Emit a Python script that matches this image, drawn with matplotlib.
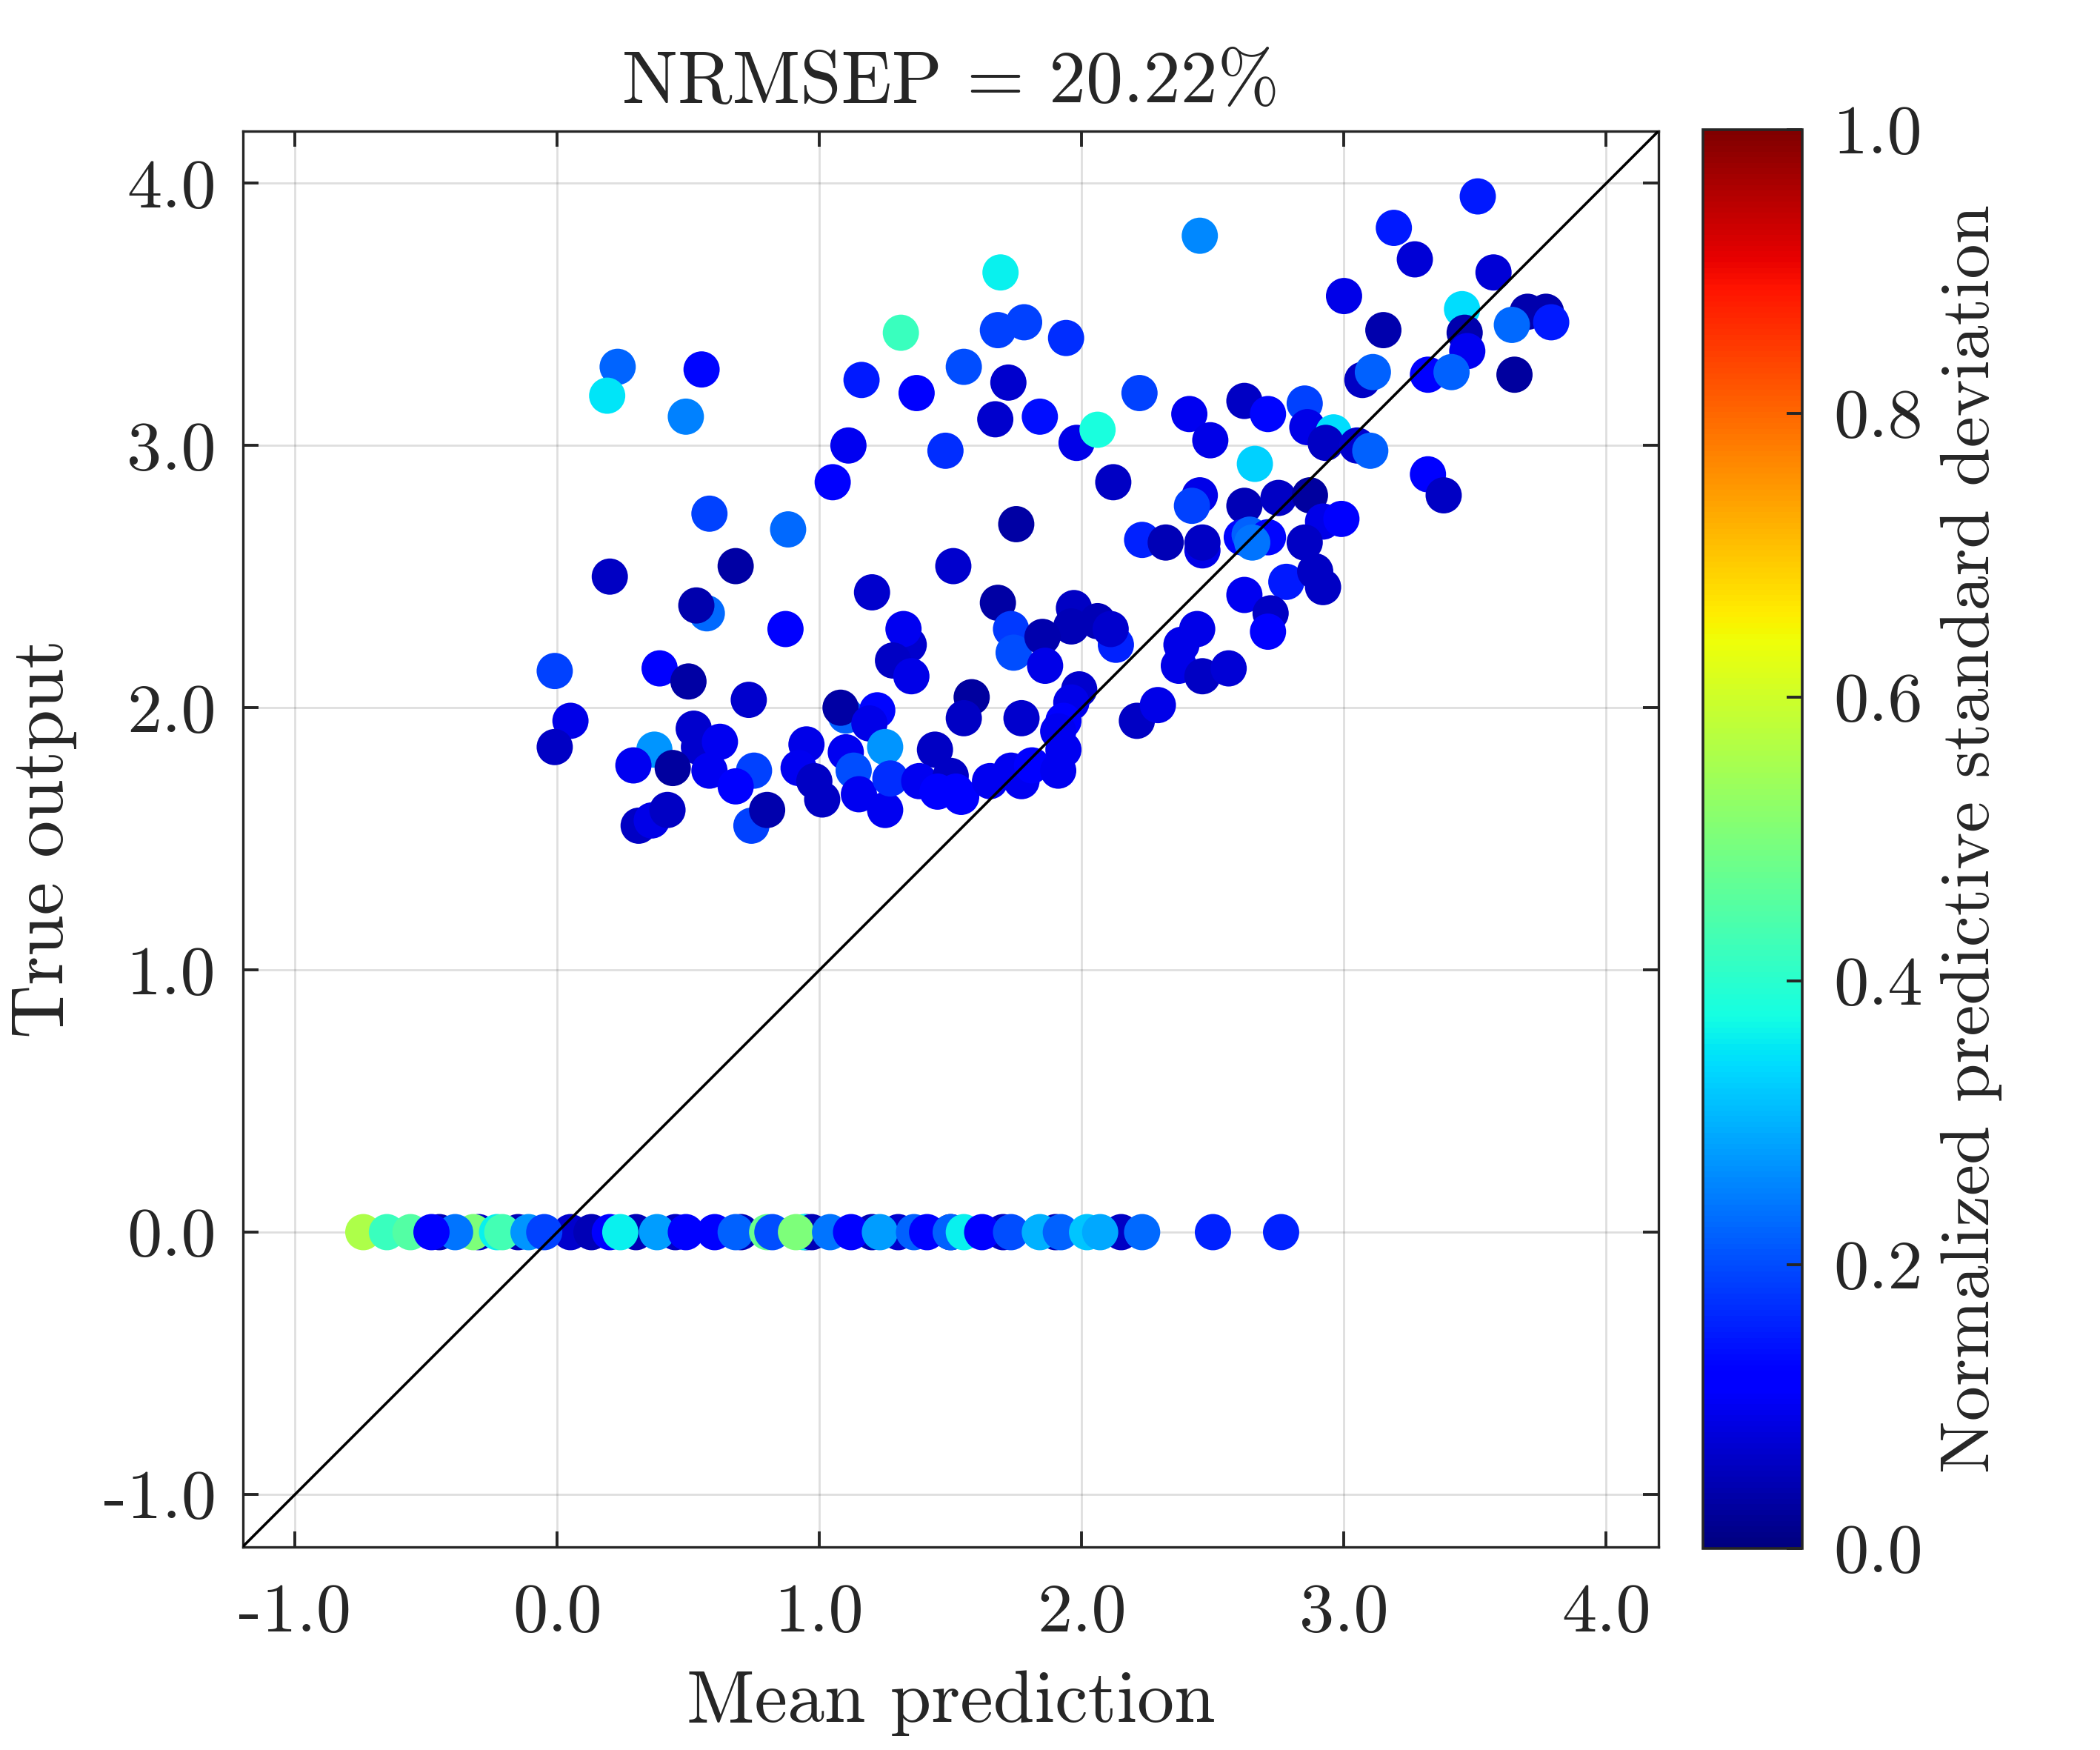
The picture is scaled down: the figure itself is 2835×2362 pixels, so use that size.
import matplotlib
matplotlib.use("Agg")
import matplotlib.pyplot as plt
import numpy as np

plt.rcParams['font.family'] = 'serif'
plt.rcParams['font.serif'] = ['cmr10']
plt.rcParams['mathtext.fontset'] = 'cm'
plt.rcParams['axes.unicode_minus'] = False
plt.rcParams['axes.formatter.use_mathtext'] = True

TXT = '#262626'

# ---- data: upper cluster (mean prediction, true output, normalized std) ----
upper_x = [3.51, 2.45, 3.19, 3.27, 3.57, 1.69, 3.00, 3.45, 3.70, 3.77,
           3.79, 3.64, 3.46, 3.15, 3.47, 1.31, 1.68, 1.78, 1.94, 0.23,
           0.55, 0.19, 0.49, 1.16, 1.55, 1.72, 1.37, 1.67, 1.84, 1.98,
           2.06, 2.22, 2.41, 2.62, 2.71, 2.85, 2.86, 2.96, 2.93, 3.07,
           3.11, 3.32, 3.41, 3.65, 3.05, 3.10, 3.32, 3.38, 1.11, 1.48,
           1.05, 2.12, 2.49, 2.66, 2.45, 2.42, 2.62, 2.75, 2.87, 2.92,
           2.99, 2.85, 0.58, 0.88, 1.75, 2.23, 2.32, 2.46, 2.46, 2.61,
           2.64, 2.71, 2.65, 2.78, 2.89, 2.92, 0.20, 0.68, 1.20, 1.51,
           1.68, 2.62, 2.72, 2.71, 0.57, 0.53, 0.87, 1.34, 1.32, 1.73,
           1.74, 1.97, 1.96, 1.85, 2.13, 2.06, 2.11, 1.86, 2.38, 2.44,
           2.37, 2.46, 2.56, 1.28, 1.35, -0.01, 0.39, 0.50, 0.73, 0.05,
           -0.01, 1.10, 1.08, 1.22, 1.58, 1.55, 1.77, 1.99, 1.96, 1.93,
           2.21, 2.29, 0.52, 0.54, 0.62, 0.58, 0.37, 0.29, 0.44, 0.95,
           0.92, 0.98, 1.01, 1.19, 1.10, 1.25, 1.13, 1.15, 1.25, 1.27,
           1.44, 1.38, 1.50, 1.45, 1.52, 1.54, 1.65, 1.73, 1.77, 1.81,
           1.91, 1.93, 1.91, 0.75, 0.68, 0.74, 0.80, 0.31, 0.36, 0.42]
upper_y = [3.95, 3.80, 3.83, 3.71, 3.66, 3.66, 3.57, 3.52, 3.51, 3.51,
           3.47, 3.46, 3.43, 3.44, 3.36, 3.43, 3.44, 3.47, 3.41, 3.30,
           3.29, 3.19, 3.11, 3.25, 3.30, 3.24, 3.20, 3.10, 3.11, 3.01,
           3.06, 3.20, 3.12, 3.17, 3.12, 3.16, 3.07, 3.05, 3.01, 3.25,
           3.28, 3.27, 3.28, 3.27, 3.00, 2.98, 2.89, 2.81, 3.00, 2.98,
           2.86, 2.86, 3.02, 2.93, 2.81, 2.77, 2.77, 2.80, 2.81, 2.71,
           2.72, 2.63, 2.74, 2.68, 2.70, 2.64, 2.63, 2.60, 2.63, 2.65,
           2.66, 2.65, 2.63, 2.48, 2.52, 2.46, 2.50, 2.54, 2.44, 2.54,
           2.40, 2.43, 2.36, 2.29, 2.36, 2.39, 2.30, 2.24, 2.30, 2.30,
           2.21, 2.38, 2.31, 2.27, 2.24, 2.33, 2.30, 2.16, 2.24, 2.30,
           2.16, 2.12, 2.15, 2.18, 2.12, 2.14, 2.15, 2.10, 2.03, 1.95,
           1.85, 1.97, 2.00, 1.99, 2.04, 1.96, 1.96, 2.07, 2.02, 1.95,
           1.95, 2.01, 1.92, 1.85, 1.87, 1.76, 1.84, 1.78, 1.77, 1.86,
           1.77, 1.72, 1.65, 1.94, 1.83, 1.85, 1.76, 1.67, 1.61, 1.73,
           1.84, 1.72, 1.74, 1.68, 1.68, 1.66, 1.72, 1.76, 1.72, 1.78,
           1.76, 1.84, 1.91, 1.76, 1.70, 1.55, 1.61, 1.55, 1.57, 1.61]
upper_std = [0.15, 0.26, 0.15, 0.075, 0.075, 0.36, 0.09, 0.34, 0.04, 0.04,
             0.15, 0.23, 0.04, 0.04, 0.10, 0.42, 0.19, 0.19, 0.17, 0.225,
             0.13, 0.35, 0.25, 0.15, 0.20, 0.07, 0.11, 0.07, 0.14, 0.09,
             0.38, 0.19, 0.10, 0.06, 0.13, 0.19, 0.09, 0.34, 0.06, 0.06,
             0.22, 0.11, 0.22, 0.03, 0.07, 0.22, 0.11, 0.06, 0.10, 0.17,
             0.11, 0.06, 0.09, 0.33, 0.09, 0.19, 0.05, 0.06, 0.03, 0.09,
             0.11, 0.06, 0.19, 0.23, 0.035, 0.16, 0.05, 0.09, 0.06, 0.13,
             0.22, 0.13, 0.24, 0.15, 0.06, 0.06, 0.06, 0.035, 0.07, 0.07,
             0.035, 0.10, 0.06, 0.11, 0.23, 0.04, 0.11, 0.07, 0.10, 0.18,
             0.20, 0.06, 0.05, 0.04, 0.16, 0.05, 0.07, 0.09, 0.09, 0.09,
             0.09, 0.06, 0.075, 0.06, 0.09, 0.19, 0.11, 0.035, 0.07, 0.09,
             0.06, 0.22, 0.035, 0.13, 0.03, 0.06, 0.07, 0.07, 0.09, 0.11,
             0.06, 0.09, 0.07, 0.07, 0.10, 0.10, 0.27, 0.10, 0.03, 0.09,
             0.10, 0.06, 0.06, 0.09, 0.10, 0.27, 0.20, 0.10, 0.10, 0.17,
             0.06, 0.10, 0.06, 0.11, 0.11, 0.12, 0.10, 0.10, 0.10, 0.11,
             0.10, 0.10, 0.10, 0.19, 0.11, 0.19, 0.04, 0.06, 0.09, 0.06]

# ---- data: lower row (true output = 0) ----
lower_x = [-0.45, -0.30, -0.15, 0.05, 0.30, 0.45, 0.70, 0.95, 1.20, 1.30,
           1.50, 1.70, 1.90, 2.15,
           -0.74, -0.65, -0.56, -0.32, -0.39, -0.48, -0.23, -0.21, -0.11, -0.05,
           0.13, 0.20, 0.24, 0.38, 0.49, 0.60, 0.68, 0.80, 0.82, 0.94,
           0.97, 0.91, 1.04, 1.12, 1.23, 1.36, 1.41, 1.50, 1.55, 1.62,
           1.73, 1.84, 1.92, 2.02, 2.07, 2.23, 2.50, 2.76]
lower_y = [0.0] * len(lower_x)
lower_std = [0.05, 0.06, 0.05, 0.07, 0.05, 0.06, 0.05, 0.06, 0.05, 0.07,
             0.05, 0.06, 0.05, 0.06,
             0.56, 0.42, 0.45, 0.50, 0.24, 0.12, 0.36, 0.43, 0.27, 0.19,
             0.05, 0.11, 0.36, 0.28, 0.11, 0.12, 0.22, 0.48, 0.20, 0.36,
             0.05, 0.50, 0.24, 0.12, 0.28, 0.22, 0.12, 0.22, 0.36, 0.12,
             0.20, 0.30, 0.22, 0.32, 0.29, 0.23, 0.16, 0.16]

x_ticks = [-1.0, 0.0, 1.0, 2.0, 3.0, 4.0]
x_ticklabels = ['-1.0', '0.0', '1.0', '2.0', '3.0', '4.0']
y_ticks = [-1.0, 0.0, 1.0, 2.0, 3.0, 4.0]
y_ticklabels = ['-1.0', '0.0', '1.0', '2.0', '3.0', '4.0']
cb_ticks = [0.0, 0.2, 0.4, 0.6, 0.8, 1.0]
cb_ticklabels = ['0.0', '0.2', '0.4', '0.6', '0.8', '1.0']
lims = [-1.2, 4.2]

fig = plt.figure(figsize=(14.175, 11.81), dpi=200)
ax = fig.add_axes([0.11556, 0.11613, 0.6743, 0.8091])
cax = fig.add_axes([0.8109, 0.11516, 0.04737, 0.8108])

all_x = lower_x + upper_x
all_y = lower_y + upper_y
all_c = lower_std + upper_std
sc = ax.scatter(all_x, all_y, c=all_c, cmap='jet', vmin=0, vmax=1,
                s=310, edgecolors='none', zorder=3)
ax.plot(lims, lims, color='black', lw=1.3, zorder=4)

ax.set_xlim(lims)
ax.set_ylim(lims)
ax.set_xticks(x_ticks)
ax.set_xticklabels(x_ticklabels)
ax.set_yticks(y_ticks)
ax.set_yticklabels(y_ticklabels)
ax.grid(True, color=TXT, alpha=0.15, lw=1.0, zorder=0)
ax.set_axisbelow(True)
ax.tick_params(direction='in', length=7.7, width=1.4, top=True, right=True,
               labelsize=34, colors=TXT)
ax.tick_params(axis='x', pad=18)
ax.tick_params(axis='y', pad=13)
for sp in ax.spines.values():
    sp.set_color(TXT)
    sp.set_linewidth(1.2)

ax.set_xlabel('Mean prediction', fontsize=36, color=TXT)
ax.xaxis.set_label_coords(0.5, -0.087)
ax.set_ylabel('True output', fontsize=36, color=TXT)
ax.yaxis.set_label_coords(-0.117, 0.5)
ax.set_title('NRMSEP = 20.22%', fontsize=36, color=TXT, pad=14)

cb = fig.colorbar(sc, cax=cax)
cb.set_ticks(cb_ticks)
cb.set_ticklabels(cb_ticklabels)
cb.outline.set_edgecolor(TXT)
cb.outline.set_linewidth(1.3)
cax.tick_params(direction='in', length=7.7, width=1.4, right=True, left=False,
                labelsize=34, colors=TXT, pad=15)
cb.set_label('Normalized predictive standard deviation', fontsize=34, color=TXT)
cax.yaxis.set_label_coords(2.39, 0.5)

fig.savefig('out.png', dpi=200, facecolor='white')
